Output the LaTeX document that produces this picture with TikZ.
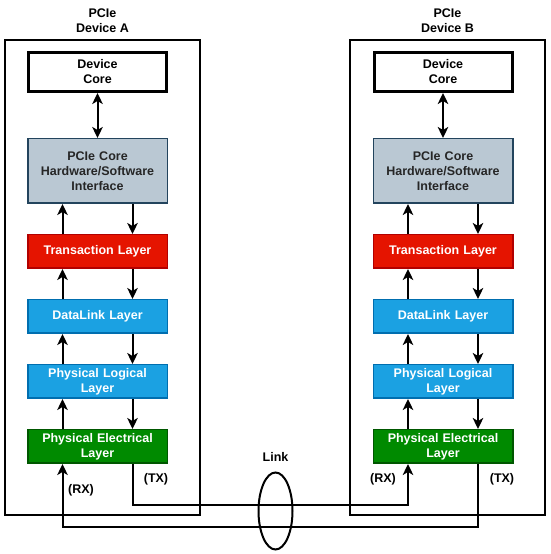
\documentclass[tikz,border=0pt]{standalone}
\usepackage{fontspec}
\setmainfont{Liberation Sans}
\usetikzlibrary{shapes.geometric, positioning, arrows.meta, calc}
\definecolor{hwfill}{HTML}{BAC8D3}
\definecolor{hwdraw}{HTML}{23445D}
\definecolor{tlfill}{HTML}{E51400}
\definecolor{tldraw}{HTML}{B20000}
\definecolor{dlfill}{HTML}{1BA1E2}
\definecolor{dldraw}{HTML}{006EAF}
\definecolor{phfill}{HTML}{008A00}
\definecolor{phdraw}{HTML}{005700}

\begin{document}
\begin{tikzpicture}[x=1pt, y=1pt, node distance=30pt,
        font=\fontsize{12.5}{15}\selectfont\bfseries,
        device/.style={draw, line width=1.5pt, minimum width=195pt, minimum height=475pt, inner sep=0pt},
        title/.style={align=center, inner sep=0pt},
        corebox/.style={draw, line width=3pt, minimum width=138pt, minimum height=39pt, text width=135pt, align=center, inner sep=0pt},
        hwbox/.style={draw=hwdraw, fill=hwfill, line width=1.5pt, minimum width=139.5pt, minimum height=64.5pt, text width=135pt, align=center, text=black!85, inner sep=0pt},
        layer/.style={line width=1.5pt, minimum width=139.5pt, minimum height=33.5pt, text width=135pt, align=center, text=white, inner sep=0pt},
        arrow/.style={line width=2pt, -{Stealth[length=11pt, width=10.5pt, inset=3pt]}},
        dblarrow/.style={line width=2pt, {Stealth[length=11pt, width=10.5pt, inset=3pt]}-{Stealth[length=11pt, width=10.5pt, inset=3pt]}},
        wire/.style={line width=2pt}]

        \useasboundingbox (0,0) rectangle (550,554);

        % Device A
        \node [device] (devA) at (102.5,276.5) {};
        \node [title, above=6pt of devA] (titleA) {PCIe\\Device A};
        \node [corebox] (coreA) at (97.5,482) {Device\\Core};
        \node [hwbox, below=45pt of coreA] (hwA) {PCIe Core\\Hardware/Software\\Interface};
        \node [layer, draw=tldraw, fill=tlfill, below=of hwA] (transA) {Transaction Layer};
        \node [layer, draw=dldraw, fill=dlfill, below=of transA] (dlA) {DataLink Layer};
        \node [layer, draw=dldraw, fill=dlfill, below=of dlA] (logA) {Physical Logical\\Layer};
        \node [layer, draw=phdraw, fill=phfill, below=of logA] (elecA) {Physical Electrical\\Layer};

        % Device B
        \node [device] (devB) at (447.5,276.5) {};
        \node [title, above=6pt of devB] (titleB) {PCIe\\Device B};
        \node [corebox] (coreB) at (443,482) {Device\\Core};
        \node [hwbox, below=45pt of coreB] (hwB) {PCIe Core\\Hardware/Software\\Interface};
        \node [layer, draw=tldraw, fill=tlfill, below=of hwB] (transB) {Transaction Layer};
        \node [layer, draw=dldraw, fill=dlfill, below=of transB] (dlB) {DataLink Layer};
        \node [layer, draw=dldraw, fill=dlfill, below=of dlB] (logB) {Physical Logical\\Layer};
        \node [layer, draw=phdraw, fill=phfill, below=of logB] (elecB) {Physical Electrical\\Layer};

        % Arrows inside the devices
        \foreach \d in {A,B} {
            \draw [dblarrow] (core\d) -- (hw\d);
            \draw [arrow] ([xshift=-35pt]trans\d.north) -- ([xshift=-35pt]hw\d.south);
            \draw [arrow] ([xshift=35pt]hw\d.south) -- ([xshift=35pt]trans\d.north);
            \draw [arrow] ([xshift=-35pt]dl\d.north) -- ([xshift=-35pt]trans\d.south);
            \draw [arrow] ([xshift=35pt]trans\d.south) -- ([xshift=35pt]dl\d.north);
            \draw [arrow] ([xshift=-35pt]log\d.north) -- ([xshift=-35pt]dl\d.south);
            \draw [arrow] ([xshift=35pt]dl\d.south) -- ([xshift=35pt]log\d.north);
            \draw [arrow] ([xshift=-35pt]elec\d.north) -- ([xshift=-35pt]log\d.south);
            \draw [arrow] ([xshift=35pt]log\d.south) -- ([xshift=35pt]elec\d.north);
        }

        % Link between the devices
        \coordinate (busAB) at (0,49);
        \coordinate (busBA) at (0,27);
        \draw [wire, arrow] ([xshift=35pt]elecA.south) -- ([xshift=35pt]elecA.south |- busAB) -| ([xshift=-35pt]elecB.south);
        \draw [wire, arrow] ([xshift=35pt]elecB.south) -- ([xshift=35pt]elecB.south |- busBA) -| ([xshift=-35pt]elecA.south);
        \node [draw, ellipse, line width=2pt, minimum width=34pt, minimum height=77pt, inner sep=0pt] (ring) at (275.5,43) {};
        \node [above=6pt of ring] (link) {Link};

        % Labels
        \node (rxA) at (81,64) {(RX)};
        \node (txA) at (156,75) {(TX)};
        \node (rxB) at (383,75) {(RX)};
        \node (txB) at (502,75) {(TX)};
\end{tikzpicture}
\end{document}
